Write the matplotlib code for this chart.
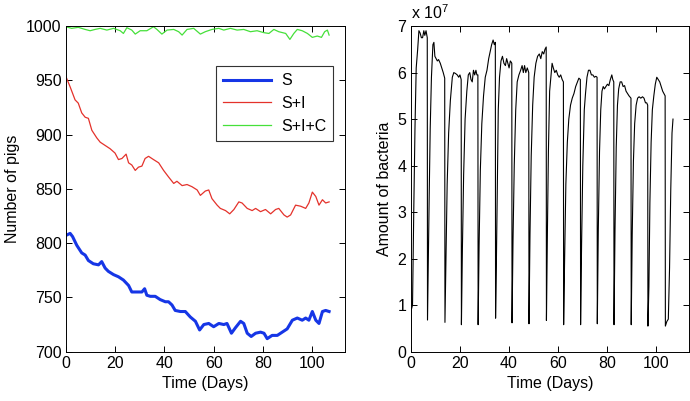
import numpy as np
import matplotlib
matplotlib.use("Agg")
import matplotlib.pyplot as plt

plt.rcParams['font.family'] = ['Liberation Sans', 'DejaVu Sans']
plt.rcParams['font.size'] = 11.5
plt.rcParams['mathtext.fontset'] = 'custom'
plt.rcParams['mathtext.rm'] = 'Liberation Sans'

# ---- left panel: number of pigs ----
t_s = [0, 1.8, 2.8, 4.5, 6.5, 7.9, 9.2, 11.2, 13.3, 14.6, 16, 17.3, 19.4, 21.4, 23.4,
       25.5, 26.8, 28.9, 30.9, 32, 32.9, 34.3, 36.3, 38.3, 40.4, 41.7, 43.1, 44.4, 46.5,
       48.5, 50.5, 52.6, 54.3, 56, 58, 60, 62.1, 64.1, 65.4, 67.2, 68.8, 70.9, 72.2, 73.6,
       75.2, 77, 79, 80.4, 81.7, 83.7, 85.8, 87.8, 89.8, 91.9, 93.9, 95.9, 97.3, 98.6,
       100, 101.4, 102.7, 104.1, 105.4, 106.8]
s = [807, 809, 806, 798, 791, 789, 784, 781, 780, 783, 777, 774, 771, 769, 766,
     761, 755, 755, 755, 758, 752, 751, 751, 748, 746, 746, 743, 738, 737,
     737, 732, 728, 720, 725, 726, 723, 726, 725, 726, 717, 722, 728, 726, 717,
     714, 717, 718, 717, 712, 715, 715, 718, 721, 729, 731, 729, 731, 729,
     737, 729, 726, 737, 738, 737]

t_si = [0, 1.8, 3.8, 5.1, 6.5, 7.9, 9.2, 10.6, 12.6, 14, 16, 18, 20, 21.4, 22.8, 24.5,
        25.5, 26.8, 28.2, 29.5, 30.9, 32.2, 33.6, 35.6, 37.7, 39.7, 41.7, 43.8, 45.1,
        47.2, 49.2, 51.2, 53.3, 54.6, 56.6, 58, 59.3, 61.4, 62.7, 64.8, 66.5, 68.2, 70.2,
        71.5, 73.6, 75.6, 77, 79, 81, 83.1, 85.1, 86.4, 88.5, 89.8, 91.2, 93.2, 95.3,
        97.3, 98.6, 100, 101.4, 102.7, 104.1, 105.4, 106.8]
si = [954, 944, 932, 929, 920, 916, 915, 904, 897, 893, 890, 887, 883, 877, 878, 882,
      874, 872, 867, 870, 871, 878, 880, 877, 874, 867, 861, 855, 857,
      853, 854, 852, 849, 844, 848, 849, 841, 835, 832, 830, 827, 831, 838,
      837, 832, 830, 832, 829, 831, 827, 831, 832, 826, 824, 826, 835, 834,
      832, 837, 847, 843, 835, 840, 837, 838]

t_sic = [0, 2.4, 5.1, 7.9, 9.9, 11.9, 14, 16.7, 19.4, 22.1, 23.4, 24.8, 26.8, 28.2, 30.2,
         32.9, 35.6, 37, 39, 41.1, 43.8, 45.8, 47.2, 49.2, 51.9, 54.6, 56.6, 59.3, 62.1,
         64.1, 66.8, 69.5, 72.2, 74.9, 77.6, 80.4, 82.4, 84.4, 86.4, 89.2, 90.9, 92.5,
         93.9, 95.9, 98, 100, 102, 103.7, 105, 106.1, 106.8]
sic = [999.4, 997.9, 998.8, 996.9, 995.7, 996.9, 997.9, 996.3, 997.9, 995.7, 993.2, 998.5,
       996.3, 992.6, 995.7, 995.7, 999.4, 996.9, 992.6, 996.3, 996.9, 994.8, 991.7, 996.9,
       997.9, 992.6, 994.8, 996.9, 997.9, 996.3, 997.9, 996.3, 996.9, 994.8, 995.7, 993.9,
       993.2, 996.9, 994.8, 993.2, 987.7, 993.2, 996.9, 995.7, 993.2, 989.6, 990.8, 989.6,
       994.8, 996.3, 991.7]

# ---- right panel: amount of bacteria, units of 1e7 ----
t_b = [0, 0.3, 0.8, 1.3, 1.8, 2.3, 2.9, 3.4, 3.9, 4.4, 4.9, 5.4, 5.8, 6.3, 6.8,
       6.9, 7.2, 7.6, 8.0, 8.5, 9.1, 9.5, 9.9, 10.4, 10.9, 11.4, 12.1, 12.7, 13.3, 13.9,
       14.0, 14.4, 14.9, 15.5, 16.2, 17.0, 17.6, 18.3, 19.0, 19.6, 20.1, 20.6,
       20.7, 21.1, 21.6, 22.2, 22.9, 23.5, 24.1, 24.6, 25.1, 25.6, 26.1, 26.6, 27.0, 27.4,
       27.5, 27.9, 28.4, 29.0, 29.7, 30.4, 31.1, 31.8, 32.4, 33.0, 33.6, 34.1, 34.5,
       34.6, 34.9, 35.3, 35.7, 36.2, 36.8, 37.4, 38.0, 38.6, 39.1, 39.6, 40.1, 40.6, 41.0, 41.2,
       41.3, 41.7, 42.2, 42.8, 43.4, 44.1, 44.8, 45.4, 45.9, 46.4, 46.9, 47.5, 48.1,
       48.2, 48.6, 49.1, 49.7, 50.3, 51.0, 51.7, 52.4, 53.0, 53.6, 54.2, 54.7, 55.2,
       55.3, 55.7, 56.1, 56.6, 57.1, 57.6, 58.1, 58.7, 59.3, 59.9, 60.5, 61.1, 61.7, 62.2,
       62.3, 62.7, 63.2, 63.8, 64.4, 65.1, 65.8, 66.5, 67.2, 67.9, 68.5, 69.1,
       69.2, 69.6, 70.1, 70.7, 71.2, 71.8, 72.4, 73.0, 73.6, 74.2, 74.8, 75.4, 75.9,
       76.0, 76.4, 76.9, 77.4, 77.9, 78.4, 78.9, 79.5, 80.1, 80.7, 81.3, 81.9, 82.3, 82.7,
       82.8, 83.2, 83.7, 84.2, 84.7, 85.3, 85.9, 86.5, 87.1, 87.7, 88.3, 88.9, 89.7,
       89.8, 90.2, 90.7, 91.2, 91.8, 92.4, 93.0, 93.7, 94.4, 95.0, 95.6, 96.1, 96.5,
       96.6, 97.0, 97.4, 97.9, 98.4, 99.0, 99.6, 100.2, 100.8, 101.4, 102.0, 102.6, 103.1, 103.6,
       103.7, 104.3, 104.9, 105.4, 105.9, 106.4, 106.8]
bact = [0, 0.9, 1.0, 3.0, 4.8, 6.1, 6.5, 6.9, 6.85, 6.75, 6.75, 6.9, 6.8, 6.9, 6.75,
        0.68, 1.9, 3.4, 4.8, 5.9, 6.6, 6.65, 6.35, 6.3, 6.25, 6.28, 6.2, 6.1, 6.0, 5.88,
        0.63, 2.0, 3.6, 4.7, 5.4, 5.9, 6.0, 5.98, 5.95, 5.9, 5.95, 5.85,
        0.58, 2.2, 3.8, 5.0, 5.6, 5.95, 6.0, 5.85, 5.8, 6.05, 5.95, 6.05, 5.95, 5.95,
        0.58, 2.3, 3.9, 4.9, 5.5, 5.9, 6.05, 6.3, 6.45, 6.6, 6.7, 6.6, 6.65,
        0.72, 1.8, 3.6, 5.2, 5.9, 6.25, 6.35, 6.2, 6.15, 6.3, 6.2, 6.1, 6.25, 6.22, 6.2,
        0.62, 2.4, 4.0, 5.2, 5.8, 5.95, 6.05, 6.15, 6.0, 6.15, 6.0, 6.1, 6.0,
        0.6, 2.5, 4.2, 5.3, 5.9, 6.2, 6.35, 6.4, 6.3, 6.45, 6.4, 6.5, 6.55,
        0.67, 2.6, 4.3, 5.6, 5.9, 6.2, 6.1, 6.0, 6.05, 5.95, 5.9, 5.95, 5.85, 5.8,
        0.58, 2.0, 3.6, 4.5, 5.0, 5.3, 5.45, 5.55, 5.7, 5.8, 5.88, 5.85,
        0.58, 2.3, 4.0, 5.2, 5.55, 5.9, 6.05, 6.05, 5.95, 5.95, 5.9, 5.92, 5.9,
        0.6, 2.6, 4.3, 5.2, 5.6, 5.7, 5.65, 5.7, 5.75, 5.72, 5.85, 5.95, 5.85, 5.8,
        0.58, 2.6, 4.4, 5.3, 5.65, 5.8, 5.8, 5.7, 5.72, 5.6, 5.55, 5.5, 5.45,
        0.58, 2.5, 4.1, 4.9, 5.3, 5.45, 5.48, 5.45, 5.48, 5.45, 5.35, 5.35, 5.3,
        0.55, 1.4, 3.2, 4.5, 5.2, 5.5, 5.75, 5.9, 5.85, 5.8, 5.7, 5.6, 5.55, 5.5,
        0.55, 0.65, 0.7, 1.8, 3.5, 4.7, 5.0]

fig = plt.figure(figsize=(6.9, 4.01), dpi=100)
ax1 = fig.add_axes([0.0952, 0.123, 0.405, 0.812])
ax2 = fig.add_axes([0.595, 0.123, 0.4035, 0.812])

ax1.plot(t_s, s, color='#1636e6', lw=2.2, label='S')
ax1.plot(t_si, si, color='#e4322b', lw=0.9, label='S+I')
ax1.plot(t_sic, sic, color='#46e03a', lw=0.9, label='S+I+C')
ax1.set_ylim(700, 1000)
ax1.set_yticks(range(700, 1001, 50))
ax1.set_ylabel('Number of pigs', labelpad=4)
leg = ax1.legend(loc='upper right', bbox_to_anchor=(0.958, 0.877), fancybox=False,
                 framealpha=1, edgecolor='#333333', handlelength=3.0,
                 borderaxespad=0, labelspacing=0.48, borderpad=0.45,
                 handletextpad=0.6)
leg.get_frame().set_linewidth(0.8)

ax2.plot(t_b, bact, color='black', lw=0.8)
ax2.set_ylim(0, 7)
ax2.set_yticks(range(0, 8))
ax2.set_ylabel('Amount of bacteria', labelpad=4)
ax2.text(0.0, 1.012, r'x 10$^{\mathregular{7}}$', transform=ax2.transAxes,
         ha='left', va='bottom', fontsize=11.5)

for ax in (ax1, ax2):
    ax.set_xlim(0, 113.3)
    ax.set_xticks(range(0, 101, 20))
    ax.set_xlabel('Time (Days)', labelpad=4)
    ax.tick_params(direction='in', top=True, right=True, length=4, width=0.7,
                   labelsize=11.5, pad=3)
    for sp in ax.spines.values():
        sp.set_linewidth(0.7)

fig.savefig('out.png', dpi=100)
